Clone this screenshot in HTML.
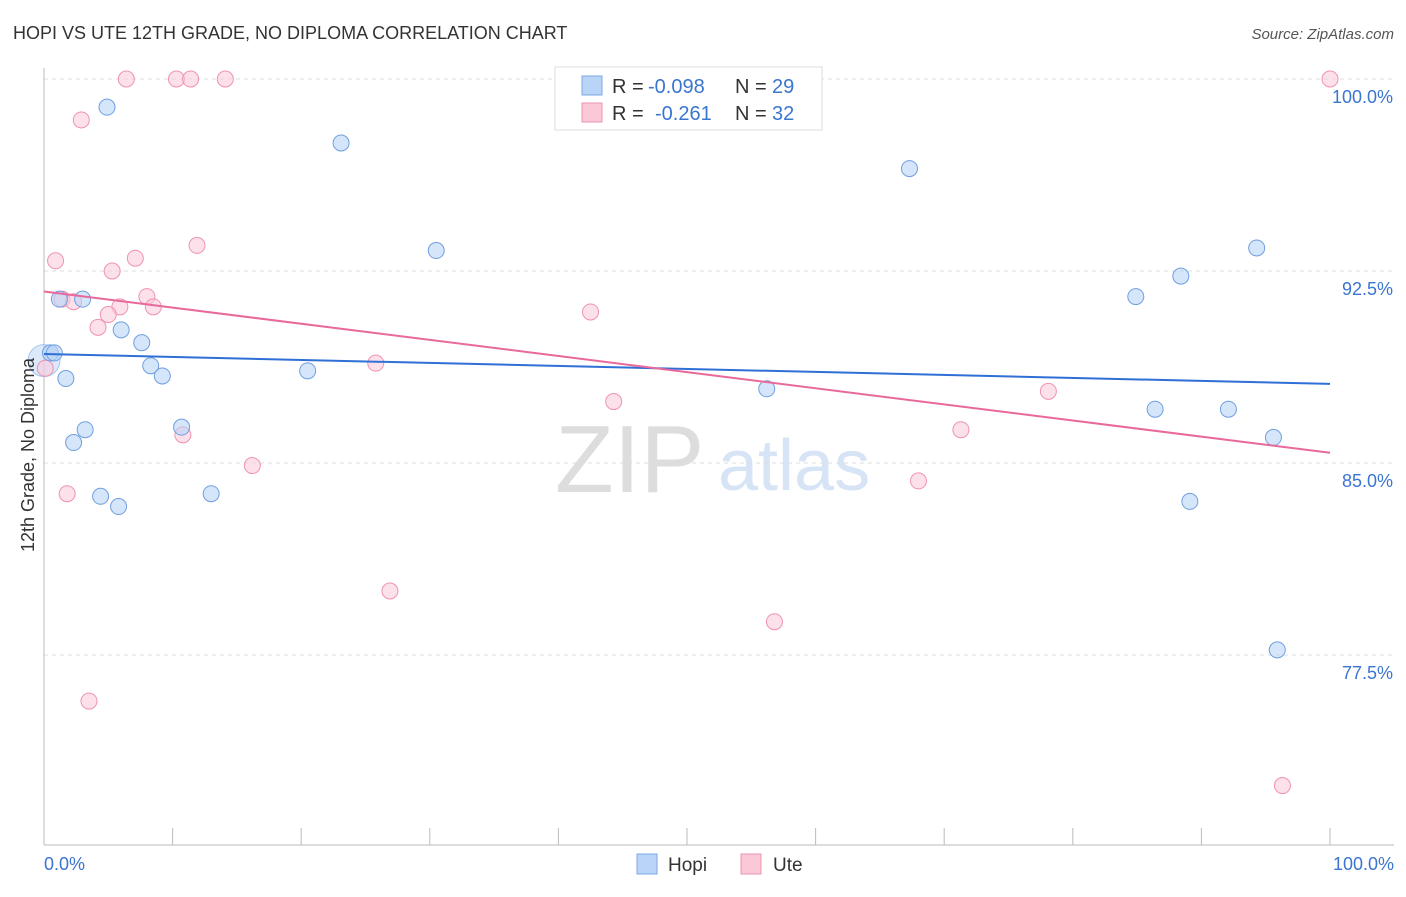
<!DOCTYPE html>
<html><head><meta charset="utf-8"><style>
body{margin:0;background:#fff;font-family:"Liberation Sans",sans-serif;}
svg text{font-family:"Liberation Sans",sans-serif;}
</style></head><body>
<svg id="chart" width="1406" height="892" xmlns="http://www.w3.org/2000/svg">
<text x="13" y="39" font-size="18" fill="#333">HOPI VS UTE 12TH GRADE, NO DIPLOMA CORRELATION CHART</text>
<text x="1394" y="39" font-size="15" fill="#555" text-anchor="end" font-style="italic">Source: ZipAtlas.com</text>
<g>
<text x="555" y="492" font-size="96" fill="#ddd" font-family="Liberation Serif">ZIP</text>
<text x="718" y="490" font-size="72" fill="#d6e4f5">atlas</text>
</g>
<g id="grid"></g>
<g id="axes"></g>
<g id="pts"></g>
<g id="lines"></g>
<text transform="translate(34,455) rotate(-90)" font-size="18" fill="#333" text-anchor="middle">12th Grade, No Diploma</text>
<g>
<rect x="555" y="67" width="267" height="63" fill="#fff" stroke="#ddd"/>
<rect x="582" y="76" width="20" height="19" fill="#b9d4f7" stroke="#7aaae6"/>
<rect x="582" y="103" width="20" height="19" fill="#fbc8d8" stroke="#ee93b0"/>
<text x="612" y="93" font-size="20" fill="#333">R =</text>
<text x="648" y="93" font-size="20" fill="#3a75d0">-0.098</text>
<text x="735" y="93" font-size="20" fill="#333">N =</text>
<text x="772" y="93" font-size="20" fill="#3a75d0">29</text>
<text x="612" y="120" font-size="20" fill="#333">R =</text>
<text x="655" y="120" font-size="20" fill="#3a75d0">-0.261</text>
<text x="735" y="120" font-size="20" fill="#333">N =</text>
<text x="772" y="120" font-size="20" fill="#3a75d0">32</text>
</g>
<g>
<rect x="637" y="854" width="20" height="20" fill="#b9d4f7" stroke="#7aaae6"/>
<text x="668" y="871" font-size="19" fill="#333">Hopi</text>
<rect x="741" y="854" width="20" height="20" fill="#fbc8d8" stroke="#ee93b0"/>
<text x="773" y="871" font-size="19" fill="#333">Ute</text>
</g>
</svg>
<script>
const hopiX=[4.9,23.1,67.3,30.5,94.3,88.4,84.9,1.2,3.0,6.0,7.6,0.5,0.8,8.3,1.7,9.2,20.5,56.2,86.4,92.1,3.2,10.7,2.3,95.6,4.4,5.8,13.0,89.1,95.9];
const hopiY=[98.9,97.5,96.5,93.3,93.4,92.3,91.5,91.4,91.4,90.2,89.7,89.3,89.3,88.8,88.3,88.4,88.6,87.9,87.1,87.1,86.3,86.4,85.8,86.0,83.7,83.3,83.8,83.5,77.7];
const uteX=[6.4,10.3,11.4,14.1,52.4,100,2.9,11.9,0.9,7.1,5.3,8.0,1.4,2.3,5.9,8.5,5.0,4.2,42.5,25.8,0.1,44.3,78.1,10.8,71.3,16.2,68.0,1.8,26.9,56.8,3.5,96.3];
const uteY=[100,100,100,100,100,100,98.4,93.5,92.9,93.0,92.5,91.5,91.4,91.3,91.1,91.1,90.8,90.3,90.9,88.9,88.7,87.4,87.8,86.1,86.3,84.9,84.3,83.8,80.0,78.8,75.7,72.4];
const hopiTrend=[89.26,88.09];
const uteTrend=[91.7,85.4];
const yTicks=[100,92.5,85,77.5];
const yTickLabels=["100.0%","92.5%","85.0%","77.5%"];
const NS="http://www.w3.org/2000/svg";
const sx=v=>44+v*12.86, sy=v=>79+(100-v)*25.6;
function mk(tag,attrs,parent){const e=document.createElementNS(NS,tag);for(const k in attrs)e.setAttribute(k,attrs[k]);document.getElementById(parent).appendChild(e);return e;}
yTicks.forEach((t,i)=>{
 const l=mk('line',{x1:44,x2:1394,y1:sy(t),y2:sy(t),stroke:'#ddd','stroke-dasharray':'4,4'},'grid');
 
 
 const tx=mk('text',{x:1393,y:sy(t)+24,'font-size':18,fill:'#3a75d0','text-anchor':'end'},'axes');
 tx.textContent=yTickLabels[i];
 
 
});
mk('line',{x1:44,x2:44,y1:68,y2:845,stroke:'#bbb'},'axes');
mk('line',{x1:44,x2:1394,y1:845,y2:845,stroke:'#bbb'},'axes');
for(let i=0;i<=10;i++){const t=mk('line',{x1:sx(i*10),x2:sx(i*10),y1:828,y2:845,stroke:'#bbb'},'axes');}
let a=mk('text',{x:44,y:870,'font-size':18,fill:'#3a75d0'},'axes');a.textContent='0.0%';

a=mk('text',{x:1394,y:870,'font-size':18,fill:'#3a75d0','text-anchor':'end'},'axes');a.textContent='100.0%';

mk('circle',{cx:sx(0),cy:sy(89.0),r:16,fill:'rgba(185,212,247,0.5)',stroke:'rgba(122,170,230,0.6)'},'pts');
uteX.forEach((x,i)=>{const c=mk('circle',{cx:sx(x),cy:sy(uteY[i]),r:8,fill:'rgba(251,200,216,0.55)',stroke:'#ee93b0','stroke-width':1},'pts');
 
 });
hopiX.forEach((x,i)=>{const c=mk('circle',{cx:sx(x),cy:sy(hopiY[i]),r:8,fill:'rgba(185,212,247,0.6)',stroke:'#6f9fdf','stroke-width':1},'pts');
 
 });
let t1=mk('line',{x1:sx(0),x2:sx(100),y1:sy(hopiTrend[0]),y2:sy(hopiTrend[1]),stroke:'#2f6fd6','stroke-width':2},'lines');


let t2=mk('line',{x1:sx(0),x2:sx(100),y1:sy(uteTrend[0]),y2:sy(uteTrend[1]),stroke:'#e8699a','stroke-width':2},'lines');


</script>
</body></html>
